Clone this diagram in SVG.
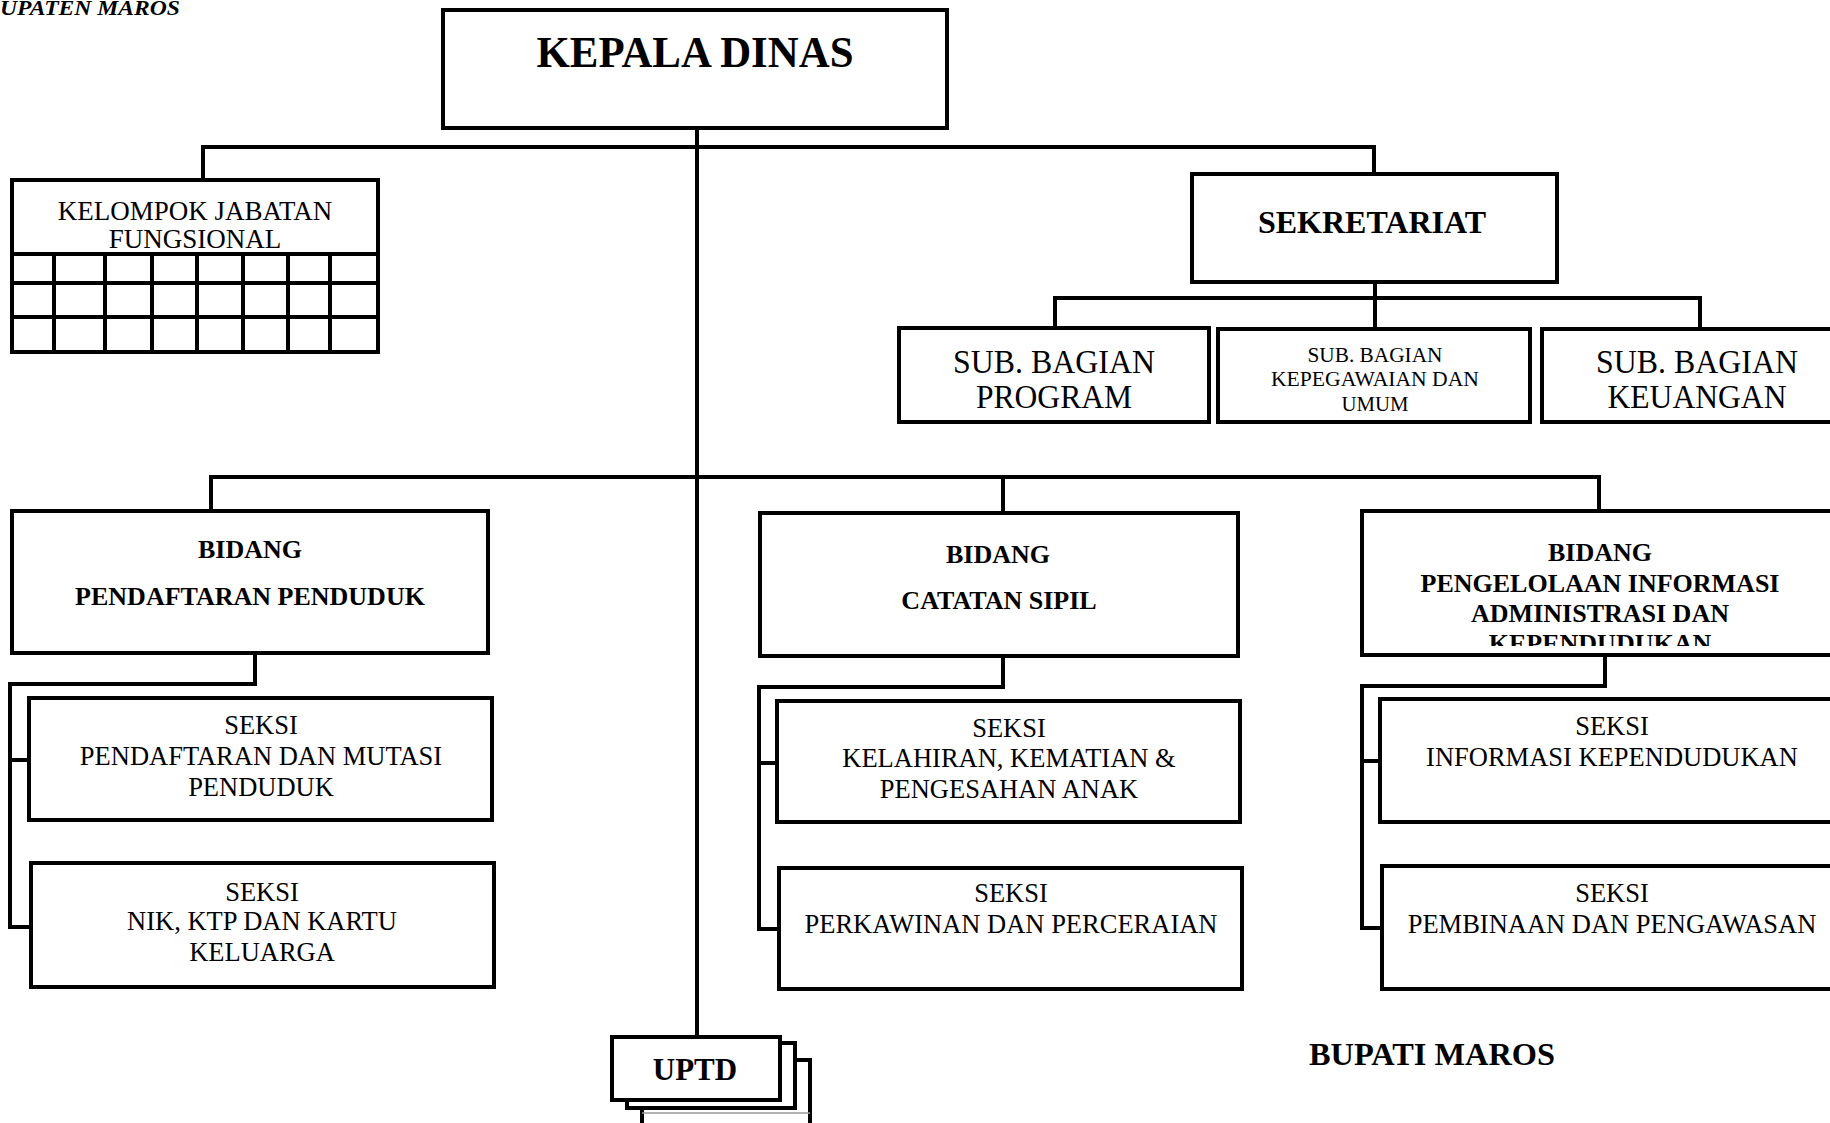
<svg xmlns="http://www.w3.org/2000/svg" width="1830" height="1123" viewBox="0 0 1830 1123">
<defs>
<style>
.box{fill:#fff;stroke:#000;stroke-width:4}
.ln{fill:none;stroke:#000;stroke-width:4;stroke-linecap:square}
text{font-family:"Liberation Serif","Times New Roman",serif;fill:#000;text-anchor:middle}
.b{font-weight:bold}
.s{font-size:26.5px}
.bb{font-size:26px;font-weight:bold}
.sb{font-size:34px}
.sk{font-size:21px}
</style>
<clipPath id="clipPiak"><rect x="1364" y="513" width="470" height="133"/></clipPath>
</defs>
<rect width="1830" height="1123" fill="#fff"/>

<text x="0" y="15" style="text-anchor:start;font-size:22px;font-weight:bold;font-style:italic" textLength="180" lengthAdjust="spacingAndGlyphs">UPATEN MAROS</text>

<g id="connectors">
<path class="ln" d="M697 128 V1037"/>
<path class="ln" d="M203 180 V147 H1374 V174"/>
<path class="ln" d="M1375 282 V328 M1055 328 V298 H1700 V328"/>
<path class="ln" d="M211 511 V477 H1599 V511 M1003 477 V513"/>
<path class="ln" d="M255 653 V684 H10 V927 H29 M10 760 H29"/>
<path class="ln" d="M1003 656 V687 H759 V929 H779 M759 763 H777"/>
<path class="ln" d="M1605 655 V686 H1362 V928 H1382 M1362 761 H1380"/>
</g>

<g id="kepala-dinas">
<rect class="box" x="443" y="10" width="504" height="118"/>
<text class="b" x="695" y="67" style="font-size:45px" textLength="317" lengthAdjust="spacingAndGlyphs">KEPALA DINAS</text>
</g>

<g id="kelompok-jabatan-fungsional">
<rect class="box" x="12" y="180" width="366" height="172"/>
<text x="195" y="220" style="font-size:27px">KELOMPOK JABATAN</text>
<text x="195" y="248" style="font-size:27px">FUNGSIONAL</text>
<path class="ln" style="stroke-linecap:butt" d="M12 254 H378 M12 283 H378 M12 317 H378 M54 254 V352 M105 254 V352 M152 254 V352 M197 254 V352 M243 254 V352 M288 254 V352 M330 254 V352"/>
</g>

<g id="sekretariat">
<rect class="box" x="1192" y="174" width="365" height="108"/>
<text class="b" x="1372" y="233" style="font-size:32px">SEKRETARIAT</text>
</g>

<g id="sub-bagian-program">
<rect class="box" x="899" y="328" width="310" height="94"/>
<text class="sb" x="1054" y="373" textLength="202" lengthAdjust="spacingAndGlyphs">SUB. BAGIAN</text>
<text class="sb" x="1054" y="408" textLength="156" lengthAdjust="spacingAndGlyphs">PROGRAM</text>
</g>

<g id="sub-bagian-kepegawaian">
<rect class="box" x="1218" y="329" width="312" height="93"/>
<text class="sk" x="1375" y="362" textLength="135" lengthAdjust="spacingAndGlyphs">SUB. BAGIAN</text>
<text class="sk" x="1375" y="386" textLength="208" lengthAdjust="spacingAndGlyphs">KEPEGAWAIAN DAN</text>
<text class="sk" x="1375" y="411" textLength="67" lengthAdjust="spacingAndGlyphs">UMUM</text>
</g>

<g id="sub-bagian-keuangan">
<rect class="box" x="1542" y="329" width="300" height="93"/>
<text class="sb" x="1697" y="373" textLength="202" lengthAdjust="spacingAndGlyphs">SUB. BAGIAN</text>
<text class="sb" x="1697" y="408" textLength="179" lengthAdjust="spacingAndGlyphs">KEUANGAN</text>
</g>

<g id="bidang-pendaftaran-penduduk">
<rect class="box" x="12" y="511" width="476" height="142"/>
<text class="bb" x="250" y="558">BIDANG</text>
<text class="bb" x="250" y="605">PENDAFTARAN PENDUDUK</text>
</g>

<g id="seksi-pendaftaran-mutasi">
<rect class="box" x="29" y="698" width="463" height="122"/>
<text class="s" x="261" y="734">SEKSI</text>
<text class="s" x="261" y="765">PENDAFTARAN DAN MUTASI</text>
<text class="s" x="261" y="796">PENDUDUK</text>
</g>

<g id="seksi-nik-ktp-kk">
<rect class="box" x="31" y="863" width="463" height="124"/>
<text class="s" x="262" y="901">SEKSI</text>
<text class="s" x="262" y="930">NIK, KTP DAN KARTU</text>
<text class="s" x="262" y="961">KELUARGA</text>
</g>

<g id="bidang-catatan-sipil">
<rect class="box" x="760" y="513" width="478" height="143"/>
<text class="bb" x="998" y="563">BIDANG</text>
<text class="bb" x="999" y="609">CATATAN SIPIL</text>
</g>

<g id="seksi-kelahiran">
<rect class="box" x="777" y="701" width="463" height="121"/>
<text class="s" x="1009" y="737">SEKSI</text>
<text class="s" x="1009" y="767">KELAHIRAN, KEMATIAN &amp;</text>
<text class="s" x="1009" y="798">PENGESAHAN ANAK</text>
</g>

<g id="seksi-perkawinan">
<rect class="box" x="779" y="868" width="463" height="121"/>
<text class="s" x="1011" y="902">SEKSI</text>
<text class="s" x="1011" y="933">PERKAWINAN DAN PERCERAIAN</text>
</g>

<g id="bidang-piak">
<rect class="box" x="1362" y="511" width="480" height="144"/>
<g clip-path="url(#clipPiak)">
<text class="bb" x="1600" y="561">BIDANG</text>
<text class="bb" x="1600" y="592">PENGELOLAAN INFORMASI</text>
<text class="bb" x="1600" y="622">ADMINISTRASI DAN</text>
<text class="bb" x="1600" y="652">KEPENDUDUKAN</text>
</g>
</g>

<g id="seksi-informasi">
<rect class="box" x="1380" y="699" width="462" height="123"/>
<text class="s" x="1612" y="735">SEKSI</text>
<text class="s" x="1612" y="766">INFORMASI KEPENDUDUKAN</text>
</g>

<g id="seksi-pembinaan">
<rect class="box" x="1382" y="866" width="460" height="123"/>
<text class="s" x="1612" y="902">SEKSI</text>
<text class="s" x="1612" y="933">PEMBINAAN DAN PENGAWASAN</text>
</g>

<g id="uptd">
<path class="ln" style="stroke-linecap:butt;fill:#fff" d="M642 1125 V1060 H810 V1125"/>
<line x1="642" y1="1113" x2="810" y2="1113" stroke="#999" stroke-width="1.5"/>
<rect class="box" x="627" y="1043" width="168" height="65"/>
<rect class="box" x="612" y="1037" width="168" height="63"/>
<text class="b" x="695" y="1080" style="font-size:31px">UPTD</text>
</g>

<text class="b" x="1309" y="1065" style="font-size:31px;text-anchor:start" textLength="246" lengthAdjust="spacingAndGlyphs">BUPATI MAROS</text>
</svg>
